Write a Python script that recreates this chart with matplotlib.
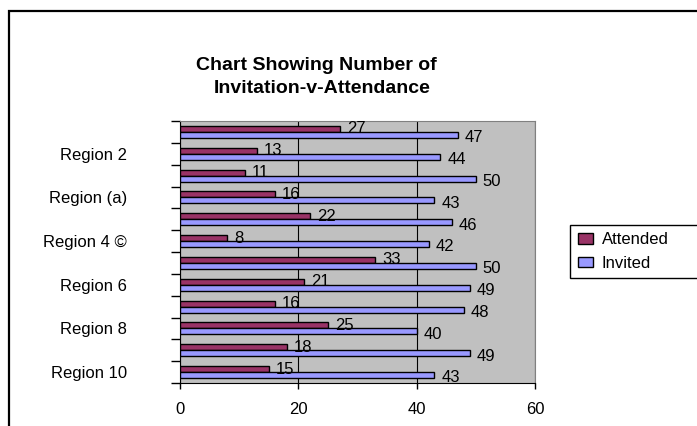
import matplotlib.pyplot as plt
import matplotlib.patches as mpatches
import numpy as np

plt.rcParams['font.family'] = ['Liberation Sans', 'DejaVu Sans']

regions = ["Region 1", "Region 2", "Region 3", "Region (a)", "Region 5", "Region 4 ©",
           "Region 7", "Region 6", "Region 9", "Region 8", "Region 11", "Region 10"]
attended = [27, 13, 11, 16, 22, 8, 33, 21, 16, 25, 18, 15]
invited = [47, 44, 50, 43, 46, 42, 50, 49, 48, 40, 49, 43]

maroon = "#993366"
lavender = "#9999FF"

W, H = 697, 426
fig = plt.figure(figsize=(W / 100, H / 100), dpi=100)
ax = fig.add_axes([180/W, 1 - 383/H, (535 - 180)/W, (383 - 121)/H])

# outer chart frame
fig.patches.append(mpatches.Rectangle((8.5/W, -0.1), 1.1, (H - 11)/H + 0.1,
                                      transform=fig.transFigure, fill=False,
                                      edgecolor="black", linewidth=1.6))

y = np.arange(len(regions))
h = 0.275
ax.barh(y - h/2, attended, height=h, color=maroon, edgecolor="black", linewidth=1.0,
        label="Attended", zorder=3)
ax.barh(y + h/2, invited, height=h, color=lavender, edgecolor="black", linewidth=1.0,
        label="Invited", zorder=3)

for i in range(len(regions)):
    ax.annotate(str(attended[i]), (attended[i], y[i] - h/2), xytext=(5, 0),
                textcoords="offset points", va="center", ha="left", fontsize=12, zorder=4)
    ax.annotate(str(invited[i]), (invited[i], y[i] + h/2), xytext=(5, -2),
                textcoords="offset points", va="center", ha="left", fontsize=12, zorder=4)

ax.set_facecolor("#C0C0C0")
ax.set_xlim(0, 60)
ax.set_ylim(len(regions) - 0.5, -0.5)
ax.set_xticks([0, 20, 40, 60])
ax.tick_params(axis="x", length=4, width=1, labelsize=12, pad=10)
ax.xaxis.grid(True, color="black", linewidth=0.8, zorder=1)
ax.set_axisbelow(True)

ax.set_yticks(y[1::2])
ax.set_yticklabels(regions[1::2])
ax.set_yticks(np.arange(-0.5, len(regions), 1), minor=True)
ax.tick_params(axis="y", which="major", length=0, labelsize=12, pad=38)
ax.tick_params(axis="y", which="minor", length=6.5, width=1)

for s in ["top", "right"]:
    ax.spines[s].set_color("#808080")
for s in ["left", "bottom"]:
    ax.spines[s].set_color("black")

fig.text(316/W, 1 - 70/H, "Chart Showing Number of", ha="center", va="baseline",
         fontsize=14, fontweight="bold")
fig.text(322/W, 1 - 93/H, "Invitation-v-Attendance", ha="center", va="baseline",
         fontsize=14, fontweight="bold")

fig.legend(loc="upper left", bbox_to_anchor=(570/W, 1 - 225/H, 140/W, 0),
           mode="expand", fontsize=12,
           frameon=True, fancybox=False, edgecolor="black", framealpha=1,
           handlelength=0.9, handleheight=0.6, borderpad=0.45, labelspacing=0.5,
           handletextpad=0.55, borderaxespad=0)

fig.savefig("out.png", dpi=100)
